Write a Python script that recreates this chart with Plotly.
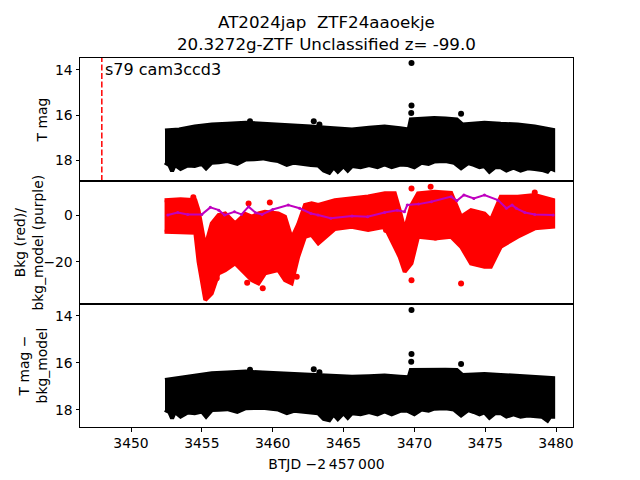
import plotly.graph_objects as go
from plotly.subplots import make_subplots

# fecha de la linea vertical (inicio del sector)
t_inicio = 3447.94

# banda de T mag (panel 1): borde brillante
t_sup = [3452.4, 3453.4, 3454.5, 3455.7, 3456.8, 3458.1, 3459.3, 3460.4, 3461.5, 3462.7,
         3463.8, 3464.8, 3465.6, 3466.8, 3467.9, 3469.0, 3469.6, 3469.75, 3470.5, 3471.4,
         3472.2, 3473.0, 3473.4, 3474.2, 3474.95, 3476.1, 3477.3, 3478.5, 3479.4, 3479.8]
mag_sup = [16.68, 16.63, 16.5, 16.41, 16.38, 16.33, 16.38, 16.41, 16.45, 16.5,
           16.55, 16.6, 16.63, 16.55, 16.5, 16.58, 16.63, 16.19, 16.17, 16.12,
           16.15, 16.19, 16.41, 16.38, 16.33, 16.38, 16.41, 16.5, 16.6, 16.65]
# borde debil (con picos)
t_inf = [3452.4, 3452.7, 3452.9, 3453.1, 3453.5, 3454.0, 3454.5, 3455.0, 3455.3, 3455.7,
         3456.2, 3456.8, 3457.5, 3458.1, 3458.7, 3459.3, 3459.9, 3460.4, 3461.0, 3461.5,
         3462.1, 3462.7, 3463.2, 3463.6, 3464.0, 3464.3, 3464.6, 3465.0, 3465.3, 3465.6,
         3466.2, 3466.8, 3467.4, 3467.9, 3468.4, 3469.0, 3469.5, 3470.0, 3470.5, 3471.0,
         3471.4, 3472.2, 3472.8, 3473.3, 3473.8, 3474.2, 3474.6, 3474.95, 3475.3, 3475.7,
         3476.1, 3476.5, 3477.0, 3477.5, 3478.0, 3478.5, 3479.0, 3479.4, 3479.6, 3479.8]
mag_inf = [18.09, 18.2, 18.47, 18.2, 18.38, 18.22, 18.25, 18.15, 18.35, 18.1,
           18.08, 18.03, 18.15, 17.96, 17.95, 17.91, 17.98, 18.03, 18.2, 18.1,
           18.15, 18.2, 18.22, 18.45, 18.55, 18.3, 18.5, 18.25, 18.45, 18.25,
           18.3, 18.2, 18.3, 18.18, 18.3, 18.18, 18.2, 18.3, 18.1, 18.15,
           18.05, 18.03, 18.1, 18.35, 18.12, 18.2, 18.3, 18.25, 18.5, 18.3,
           18.3, 18.45, 18.32, 18.45, 18.35, 18.38, 18.42, 18.5, 18.35, 18.4]
# puntos brillantes aislados
t_out = [3458.4, 3462.9, 3463.3, 3469.8, 3469.8, 3469.78, 3473.3]
mag_out = [16.27, 16.27, 16.41, 13.69, 15.57, 15.9, 15.94]

# fondo (panel 2): banda roja
t_bkg = [3452.37, 3453.5, 3454.54, 3454.77, 3455.24, 3455.7, 3456.18, 3456.65, 3457.35,
         3458.06, 3458.52, 3459.0, 3459.46, 3460.4, 3460.87, 3461.34, 3461.8, 3462.28,
         3462.75, 3463.22, 3464.39, 3465.57, 3466.74, 3467.92, 3468.62, 3468.97, 3469.32,
         3469.8, 3470.26, 3471.44, 3472.6, 3473.3, 3474.0, 3474.95, 3475.4, 3476.1,
         3477.3, 3478.5, 3479.8]
bkg_sup = [6.4, 6.8, 6.4, 2.0, -13.6, -3.6, 0.0, 0.7, -3.6,
           0.5, -0.7, 0.7, 1.4, 0.7, -0.7, -10.0, -4.0, 4.3,
           5.0, 4.3, 6.4, 7.1, 8.0, 9.3, 9.3, 2.0, -6.4,
           4.3, 9.3, 10.0, 9.5, -0.7, 2.1, 0.7, -2.1, 7.9,
           7.9, 8.6, 6.4]
bkg_inf = [-7.1, -7.4, -7.6, -20.0, -36.4, -33.6, -25.0, -23.6, -20.7,
           -25.0, -27.9, -29.3, -25.0, -23.6, -27.9, -29.3, -17.9, -9.3,
           -8.5, -12.1, -6.0, -5.0, -6.4, -5.0, -13.6, -18.0, -24.3,
           -20.7, -9.3, -10.0, -9.3, -13.6, -20.7, -22.1, -22.1, -13.6,
           -9.3, -5.7, -5.0]
t_bkg_out = [3454.4, 3458.3, 3459.8, 3456.05, 3459.3, 3458.2, 3461.7, 3469.8,
             3471.15, 3478.5, 3473.3, 3469.8, 3468.0, 3471.5, 3474.65]
bkg_out = [7.6, 5.0, 5.4, -27.1, -31.4, -29.0, -26.4, 11.4,
           12.1, 9.7, -29.3, -27.9, -6.4, -9.6, -18.6]

# modelo de fondo (purpura)
t_mod = [3452.6, 3453.3, 3454.0, 3455.0, 3455.6, 3456.2, 3456.6, 3457.3, 3457.8, 3458.3,
         3458.8, 3459.25, 3460.0, 3461.1, 3461.9, 3462.7, 3463.2, 3464.1, 3465.6, 3466.7,
         3467.9, 3468.8, 3469.3, 3469.5, 3470.3, 3471.2, 3472.6, 3473.0, 3473.5, 3474.2,
         3474.95, 3475.9, 3476.5, 3476.9, 3477.2, 3477.8, 3478.5, 3479.8]
bkg_mod = [0.0, 1.1, 0.3, 0.3, 3.3, 2.1, 0.0, 1.4, 0.3, 3.6,
           1.0, 0.3, 2.4, 4.3, 2.9, 0.7, 0.0, -1.4, -0.4, -0.7,
           1.1, 2.1, 1.4, 4.3, 4.7, 5.7, 7.9, 6.1, 8.6, 7.1,
           8.6, 6.4, 2.9, 4.3, 2.9, 1.1, 0.3, 0.0]

# T mag - bkg_model (panel 3)
mag3_sup = [16.74, 16.66, 16.55, 16.45, 16.42, 16.38, 16.42, 16.45, 16.48, 16.5,
            16.52, 16.58, 16.6, 16.58, 16.55, 16.6, 16.62, 16.31, 16.3, 16.28,
            16.3, 16.31, 16.52, 16.5, 16.48, 16.52, 16.55, 16.6, 16.64, 16.66]
mag3_inf = [18.01, 18.1, 18.37, 18.1, 18.3, 18.12, 18.15, 18.08, 18.3, 18.02,
            18.0, 17.98, 18.1, 17.94, 17.93, 17.92, 17.96, 18.0, 18.15, 18.05,
            18.1, 18.12, 18.15, 18.4, 18.45, 18.2, 18.4, 18.15, 18.35, 18.15,
            18.2, 18.1, 18.2, 18.08, 18.2, 18.05, 18.05, 18.2, 18.0, 18.05,
            17.96, 17.94, 18.0, 18.25, 18.02, 18.1, 18.2, 18.12, 18.35, 18.15,
            18.15, 18.3, 18.2, 18.3, 18.25, 18.28, 18.3, 18.47, 18.3, 18.3]
mag3_out = [16.3, 16.28, 16.41, 13.76, 15.63, 15.96, 16.06]

fuente = 'DejaVu Sans, Liberation Sans, sans-serif'

fig = make_subplots(rows=3, cols=1, shared_xaxes=True, vertical_spacing=0)


def banda(ts, sup, ti, inf, color, fila):
    fig.add_trace(go.Scatter(x=ts + ti[::-1], y=sup + inf[::-1], mode='lines',
                             fill='toself', fillcolor=color,
                             line=dict(color=color, width=4), hoverinfo='skip'),
                  row=fila, col=1)


def puntos(t, v, color, fila, tam=6):
    fig.add_trace(go.Scatter(x=t, y=v, mode='markers',
                             marker=dict(color=color, size=tam)), row=fila, col=1)


# panel 1
banda(t_sup, mag_sup, t_inf, mag_inf, 'black', 1)
puntos(t_out, mag_out, 'black', 1)
fig.add_trace(go.Scatter(x=[t_inicio, t_inicio], y=[18.91, 13.47], mode='lines',
                         line=dict(color='red', width=1.5, dash='6px,2.5px')), row=1, col=1)

# panel 2
banda(t_bkg, bkg_sup, t_bkg, bkg_inf, 'red', 2)
puntos(t_bkg_out, bkg_out, 'red', 2)
fig.add_trace(go.Scatter(x=t_mod, y=bkg_mod, mode='lines+markers',
                         line=dict(color='#BF00BF', width=2),
                         marker=dict(color='#BF00BF', size=3)), row=2, col=1)

# panel 3
banda(t_sup, mag3_sup, t_inf, mag3_inf, 'black', 3)
puntos(t_out, mag3_out, 'black', 3)

fig.add_annotation(x=t_inicio + 0.08, y=1.0, xref='x', yref='y domain',
                   text='s79 cam3ccd3', showarrow=False, xanchor='left', yanchor='top',
                   font=dict(size=16, color='black', family=fuente))

# titulo en dos lineas
fig.add_annotation(x=0.5, y=1.0, xref='paper', yref='paper', yanchor='bottom', yshift=2,
                   text='AT2024jap  ZTF24aaoekje<br>20.3272g-ZTF Unclassified z= -99.0',
                   showarrow=False, font=dict(size=16.7, color='black', family=fuente))

# etiqueta del panel 2
fig.add_annotation(x=0, y=0.5, xref='paper', yref='y2 domain', xanchor='center',
                   xshift=-52, textangle=-90, showarrow=False,
                   text='Bkg (red)/<br>bkg_model (purple)',
                   font=dict(size=13.9, color='black', family=fuente))

ejes = dict(showline=True, mirror=True, linecolor='black', linewidth=1, automargin=False,
            showgrid=False, zeroline=False, ticks='outside', ticklen=3.5,
            tickwidth=0.8, tickcolor='black', tickfont=dict(size=13.9, color='black'))

fig.update_xaxes(range=[3446.4, 3481.2], **ejes)
fig.update_xaxes(ticks='', row=1, col=1)
fig.update_xaxes(ticks='', row=2, col=1)
fig.update_xaxes(tickvals=[3450, 3455, 3460, 3465, 3470, 3475, 3480],
                 title=dict(text='BTJD \u22122\u2009457\u2009000', standoff=9,
                            font=dict(size=13.9)), row=3, col=1)

fig.update_yaxes(**ejes)
fig.update_yaxes(range=[18.91, 13.47], tickvals=[14, 16, 18],
                 title=dict(text='T mag', font=dict(size=13.9), standoff=4), row=1, col=1)
fig.update_yaxes(range=[-38.1, 14.6], tickvals=[0, -20], ticktext=['0', '\u221220'],
                 row=2, col=1)
fig.update_yaxes(range=[18.74, 13.5], tickvals=[14, 16, 18],
                 title=dict(text='T mag \u2212<br>bkg_model', font=dict(size=13.9), standoff=4),
                 row=3, col=1)

# la pagina tiene 8 px de margen en el body: se compensa aqui
fig.update_layout(
    width=640, height=480,
    margin=dict(l=72, r=75, t=50, b=61),
    paper_bgcolor='white', plot_bgcolor='white',
    showlegend=False,
    font=dict(family=fuente, color='black'),
)

fig.write_html('out.html')
